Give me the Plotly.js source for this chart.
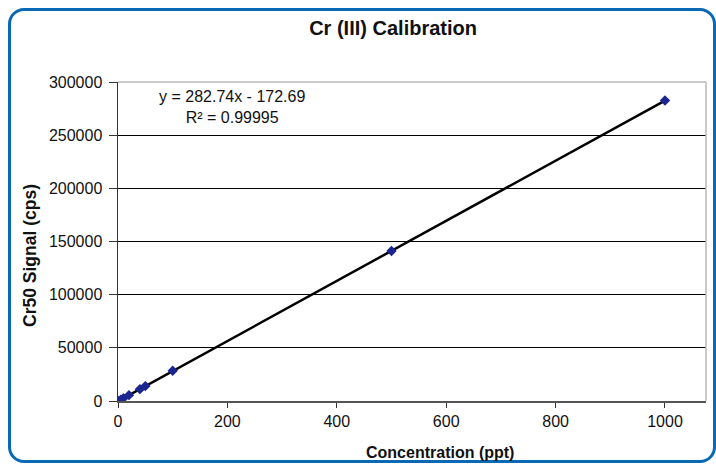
<!DOCTYPE html>
<html>
<head>
<meta charset="utf-8">
<script src="https://cdn.plot.ly/plotly-3.0.1.min.js"></script>
<style>
html,body{margin:0;padding:0;background:#fff;}
#frame{position:absolute;left:8px;top:8px;width:702px;height:449px;border:3px solid #0a69b4;border-radius:16px;}
#chart{position:absolute;left:0;top:0;width:716px;height:465px;}
</style>
</head>
<body>
<div id="frame"></div>
<div id="chart"></div>
<script>
// Data
const concentration = [0, 5, 10, 20, 40, 50, 100, 500, 1000];
const signal = [60, 1250, 2700, 5500, 11150, 14000, 28400, 141000, 282600];
const slope = 282.74;
const intercept = -172.69;
const rSquared = 0.99995;
const xTicks = [0, 200, 400, 600, 800, 1000];
const yTicks = [0, 50000, 100000, 150000, 200000, 250000, 300000];
const xTitle = 'Concentration (ppt)';
const yTitle = 'Cr50 Signal (cps)';
const chartTitle = 'Cr (III) Calibration';

const xMin = Math.min(...concentration), xMax = Math.max(...concentration);
const fitX = [xMin, xMax];
const fitY = fitX.map(x => slope * x + intercept);

const data = [
  {x: fitX, y: fitY, mode: 'lines', type: 'scatter',
   line: {color: '#000000', width: 2.5}, hoverinfo: 'skip', showlegend: false},
  {x: concentration, y: signal, mode: 'markers', type: 'scatter',
   marker: {symbol: 'diamond', size: 8, color: '#1a2590'}, showlegend: false}
];

const layout = {
  width: 716, height: 465,
  paper_bgcolor: 'rgba(0,0,0,0)', plot_bgcolor: '#ffffff',
  margin: {l: 118, r: 10, t: 82, b: 64},
  font: {family: 'Liberation Sans, Arial, sans-serif', color: '#111111', size: 16},
  title: {text: '<b>' + chartTitle + '</b>', x: 0.549, xanchor: 'center', y: 0.94, yanchor: 'middle',
          font: {size: 20, color: '#111111'}},
  xaxis: {range: [0, 1075], tickvals: xTicks, ticks: 'outside', ticklen: 5, tickcolor: '#333',
          showgrid: false, zeroline: false, showline: true, linecolor: '#555', linewidth: 1.5,
          tickfont: {size: 16}},
  yaxis: {range: [0, 300000], tickvals: yTicks, ticktext: yTicks.map(String), ticks: 'outside', ticklen: 8, tickcolor: '#333',
          ticklabelstandoff: 3,
          showgrid: true, gridcolor: '#000000', gridwidth: 1.3, zeroline: false, showline: true,
          linecolor: '#333', linewidth: 1.5, tickfont: {size: 16}},
  shapes: [
    {type: 'line', xref: 'paper', yref: 'paper', x0: 0, x1: 1, y0: 1, y1: 1, line: {color: '#b8b8b8', width: 1.5}, layer: 'above'},
    {type: 'line', xref: 'paper', yref: 'paper', x0: 1, x1: 1, y0: 0, y1: 1, line: {color: '#b8b8b8', width: 1.5}, layer: 'above'}
  ],
  annotations: [
    {xref: 'paper', yref: 'paper', x: 0.194, y: 0.923, xanchor: 'center', yanchor: 'middle', showarrow: false,
     text: 'y = ' + slope + 'x - ' + Math.abs(intercept) + '<br>R² = ' + rSquared,
     font: {size: 16, color: '#111'}, align: 'center'},
    {xref: 'paper', yref: 'paper', x: 0.548, y: -0.163, xanchor: 'center', yanchor: 'middle', showarrow: false,
     text: '<b>' + xTitle + '</b>', font: {size: 16, color: '#111'}},
    {xref: 'paper', yref: 'paper', x: -0.1497, y: 0.4577, xanchor: 'center', yanchor: 'middle', showarrow: false,
     textangle: -90, text: '<b>' + yTitle + '</b>', font: {size: 17.5, color: '#111'}}
  ]
};

Plotly.newPlot('chart', data, layout, {displayModeBar: false, staticPlot: true});
</script>
</body>
</html>
